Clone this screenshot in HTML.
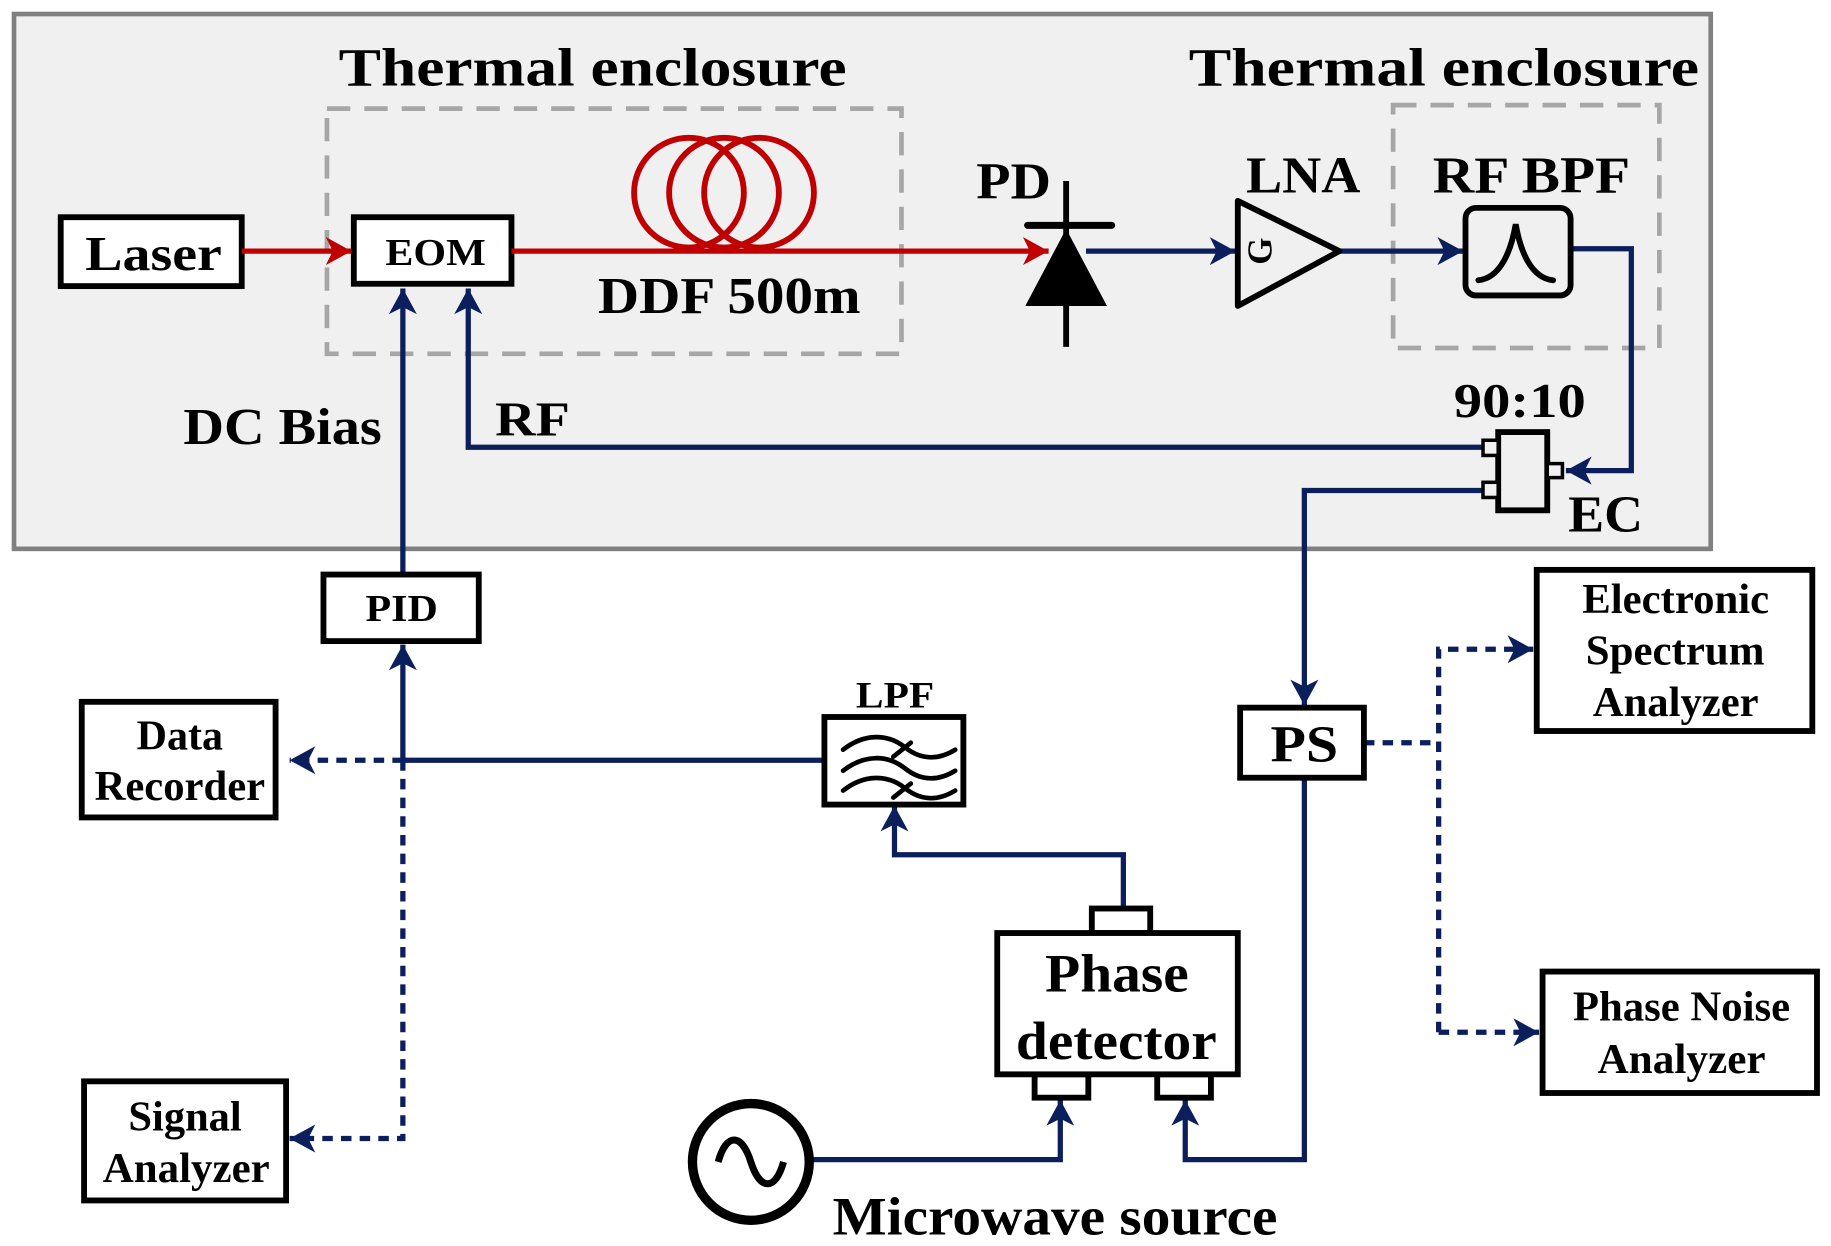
<!DOCTYPE html>
<html><head><meta charset="utf-8"><style>
html,body{margin:0;padding:0;background:#fff;}
svg{display:block;}
text{font-family:"Liberation Serif",serif;font-weight:bold;fill:#000;}
</style></head><body>
<svg width="1831" height="1246" viewBox="0 0 1568 1067" xmlns="http://www.w3.org/2000/svg">
<defs>
<marker id="ab" markerUnits="userSpaceOnUse" markerWidth="26" markerHeight="26" refX="22" refY="12" orient="auto"><path d="M0,0 L22,12 L0,24 L6,12 Z" fill="#0b1f5c"/></marker>
<marker id="ar" markerUnits="userSpaceOnUse" markerWidth="26" markerHeight="26" refX="22" refY="12" orient="auto"><path d="M0,0 L22,12 L0,24 L6,12 Z" fill="#c00000"/></marker>
</defs>
<rect x="0" y="0" width="1568" height="1067" fill="#fff"/>
<rect x="12" y="12" width="1453" height="458" fill="#f0f0f0" stroke="#808080" stroke-width="4"/>
<text x="290" y="73" font-size="46" textLength="435" lengthAdjust="spacingAndGlyphs">Thermal enclosure</text>
<text x="1018" y="73" font-size="46" textLength="437" lengthAdjust="spacingAndGlyphs">Thermal enclosure</text>
<rect x="280" y="93" width="492" height="210" fill="none" stroke="#a6a6a6" stroke-width="4" stroke-dasharray="20 12"/>
<rect x="1193" y="90" width="228" height="208" fill="none" stroke="#a6a6a6" stroke-width="4" stroke-dasharray="20 12"/>
<g fill="none" stroke="#c00000" stroke-width="5">
<circle cx="590" cy="165" r="47"/><circle cx="620" cy="165" r="47"/><circle cx="650" cy="165" r="47"/>
</g>
<rect x="52" y="186" width="155" height="59" fill="#fff" stroke="#000" stroke-width="5"/>
<text x="73" y="231" font-size="42" textLength="117" lengthAdjust="spacingAndGlyphs">Laser</text>
<rect x="303" y="186" width="135" height="57" fill="#fff" stroke="#000" stroke-width="5"/>
<text x="330" y="227" font-size="33" textLength="86" lengthAdjust="spacingAndGlyphs">EOM</text>
<g stroke="#c00000" stroke-width="4.5" fill="none">
<line x1="207" y1="215" x2="301" y2="215" marker-end="url(#ar)"/>
<line x1="438" y1="215" x2="898" y2="215" marker-end="url(#ar)"/>
</g>
<text x="512" y="268" font-size="44" textLength="225" lengthAdjust="spacingAndGlyphs">DDF 500m</text>
<line x1="913" y1="155" x2="913" y2="297" stroke="#000" stroke-width="5"/>
<line x1="880" y1="193" x2="952" y2="193" stroke="#000" stroke-width="6" stroke-linecap="round"/>
<polygon points="913,196 878,262 948,262" fill="#000"/>
<text x="836" y="170" font-size="44" textLength="64" lengthAdjust="spacingAndGlyphs">PD</text>
<g stroke="#0b1f5c" stroke-width="4.5" fill="none">
<line x1="930" y1="215" x2="1058" y2="215" marker-end="url(#ab)"/>
<line x1="1147" y1="215" x2="1253" y2="215" marker-end="url(#ab)"/>
<polyline points="1345,213 1397,213 1397,403 1341,403" marker-end="url(#ab)"/>
<polyline points="1272,383 401,383 401,247" marker-end="url(#ab)"/>
<line x1="345" y1="492" x2="345" y2="247" marker-end="url(#ab)"/>
<polyline points="1272,420 1117,420 1117,604" marker-end="url(#ab)"/>
<line x1="345" y1="651" x2="345" y2="552" marker-end="url(#ab)"/>
<line x1="706" y1="651" x2="345" y2="651"/>
<polyline points="962,778 962,732 766,732 766,690" marker-end="url(#ab)"/>
<polyline points="693,993 908,993 908,942" marker-end="url(#ab)"/>
<polyline points="1117,666 1117,993 1015,993 1015,942" marker-end="url(#ab)"/>
</g>
<g stroke="#0b1f5c" stroke-width="4.5" fill="none" stroke-dasharray="9 7">
<line x1="345" y1="651" x2="248" y2="651" marker-end="url(#ab)"/>
<polyline points="345,651 345,975 248,975" marker-end="url(#ab)"/>
<line x1="1168" y1="636" x2="1232" y2="636"/>
<polyline points="1232,884 1232,556 1313,556" marker-end="url(#ab)"/>
<line x1="1232" y1="884" x2="1318" y2="884" marker-end="url(#ab)"/>
</g>
<polygon points="1060,172 1060,262 1147,215" fill="#f0f0f0" stroke="#000" stroke-width="5" stroke-linejoin="round"/>
<text x="0" y="0" font-size="30" transform="translate(1089,215) rotate(-90)" text-anchor="middle">G</text>
<text x="1067" y="165" font-size="44" textLength="98" lengthAdjust="spacingAndGlyphs">LNA</text>
<rect x="1255" y="178" width="90" height="75" rx="9" fill="#f0f0f0" stroke="#000" stroke-width="5"/>
<path d="M1266,240 C1285,238 1294,215 1298,192 C1302,215 1311,238 1330,240" fill="none" stroke="#000" stroke-width="5" stroke-linecap="round"/>
<text x="1227" y="165" font-size="44" textLength="169" lengthAdjust="spacingAndGlyphs">RF BPF</text>
<rect x="1283" y="370" width="42" height="67" fill="#f0f0f0" stroke="#000" stroke-width="5"/>
<rect x="1270" y="377" width="13" height="13" fill="#f0f0f0" stroke="#000" stroke-width="3"/>
<rect x="1270" y="413" width="13" height="13" fill="#f0f0f0" stroke="#000" stroke-width="3"/>
<rect x="1325" y="397" width="13" height="12" fill="#f0f0f0" stroke="#000" stroke-width="3"/>
<text x="1245" y="357" font-size="42" textLength="113" lengthAdjust="spacingAndGlyphs">90:10</text>
<text x="1343" y="455" font-size="44" textLength="64" lengthAdjust="spacingAndGlyphs">EC</text>
<text x="424" y="373" font-size="42" textLength="64" lengthAdjust="spacingAndGlyphs">RF</text>
<text x="157" y="380" font-size="44" textLength="170" lengthAdjust="spacingAndGlyphs">DC Bias</text>
<rect x="277" y="492" width="133" height="57" fill="#fff" stroke="#000" stroke-width="5"/>
<text x="313" y="532" font-size="33" textLength="62" lengthAdjust="spacingAndGlyphs">PID</text>
<rect x="706" y="614" width="119" height="75" fill="#fff" stroke="#000" stroke-width="5"/>
<g fill="none" stroke="#000" stroke-width="4" stroke-linecap="round">
<path d="M722,642 C740,628 760,628 775,640 C790,652 805,650 818,642"/>
<path d="M722,660 C740,646 760,646 775,658 C790,670 805,668 818,660"/>
<path d="M722,677 C740,663 760,663 775,675 C790,687 805,685 818,677"/>
<line x1="765" y1="648" x2="780" y2="636"/>
<line x1="765" y1="683" x2="780" y2="671"/>
</g>
<text x="733" y="606" font-size="32" textLength="67" lengthAdjust="spacingAndGlyphs">LPF</text>
<rect x="70" y="601" width="166" height="99" fill="#fff" stroke="#000" stroke-width="5"/>
<text x="117" y="642" font-size="36" textLength="74" lengthAdjust="spacingAndGlyphs">Data</text>
<text x="81" y="685" font-size="36" textLength="146" lengthAdjust="spacingAndGlyphs">Recorder</text>
<rect x="72" y="926" width="173" height="102" fill="#fff" stroke="#000" stroke-width="5"/>
<text x="110" y="968" font-size="36" textLength="97" lengthAdjust="spacingAndGlyphs">Signal</text>
<text x="88" y="1012" font-size="36" textLength="143" lengthAdjust="spacingAndGlyphs">Analyzer</text>
<rect x="935" y="778" width="50" height="21" fill="#fff" stroke="#000" stroke-width="5"/>
<rect x="886" y="920" width="46" height="20" fill="#fff" stroke="#000" stroke-width="5"/>
<rect x="991" y="920" width="46" height="20" fill="#fff" stroke="#000" stroke-width="5"/>
<rect x="854" y="799" width="206" height="121" fill="#fff" stroke="#000" stroke-width="5"/>
<text x="895" y="849" font-size="46" textLength="123" lengthAdjust="spacingAndGlyphs">Phase</text>
<text x="870" y="907" font-size="46" textLength="172" lengthAdjust="spacingAndGlyphs">detector</text>
<circle cx="643" cy="995" r="50" fill="#fff" stroke="#000" stroke-width="8"/>
<path d="M615,995 C622,970 635,970 643,995 C651,1020 664,1020 671,995" fill="none" stroke="#000" stroke-width="6"/>
<text x="713" y="1057" font-size="46" textLength="381" lengthAdjust="spacingAndGlyphs">Microwave source</text>
<rect x="1062" y="606" width="106" height="60" fill="#fff" stroke="#000" stroke-width="5"/>
<text x="1088" y="652" font-size="44" textLength="58" lengthAdjust="spacingAndGlyphs">PS</text>
<rect x="1316" y="488" width="236" height="138" fill="#fff" stroke="#000" stroke-width="5"/>
<text x="1355" y="525" font-size="36" textLength="160" lengthAdjust="spacingAndGlyphs">Electronic</text>
<text x="1358" y="569" font-size="36" textLength="153" lengthAdjust="spacingAndGlyphs">Spectrum</text>
<text x="1364" y="613" font-size="36" textLength="142" lengthAdjust="spacingAndGlyphs">Analyzer</text>
<rect x="1321" y="832" width="235" height="104" fill="#fff" stroke="#000" stroke-width="5"/>
<text x="1347" y="874" font-size="36" textLength="186" lengthAdjust="spacingAndGlyphs">Phase Noise</text>
<text x="1368" y="919" font-size="36" textLength="144" lengthAdjust="spacingAndGlyphs">Analyzer</text>
</svg>
</body></html>
